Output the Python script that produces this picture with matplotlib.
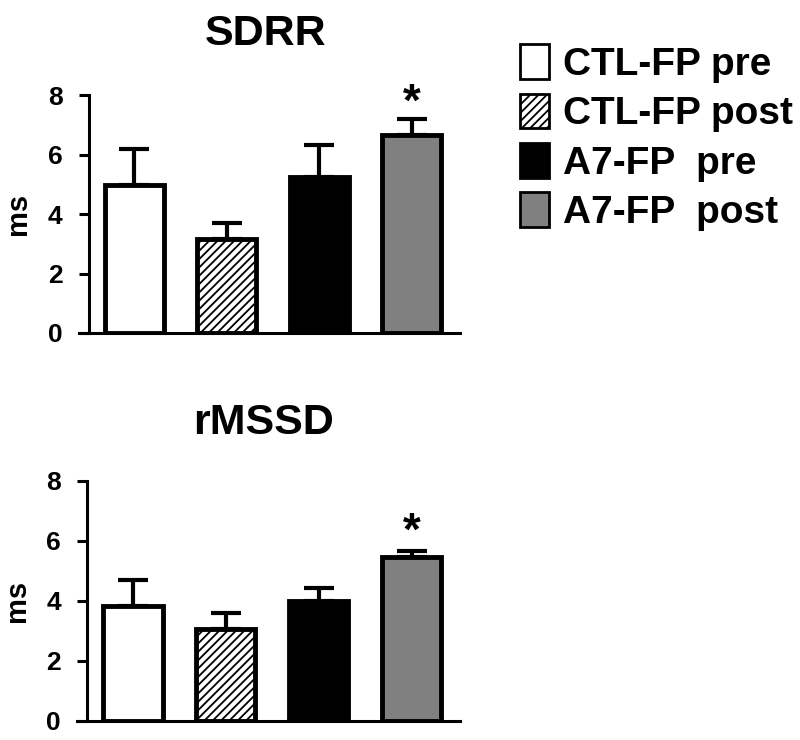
import matplotlib
matplotlib.use('Agg')
import matplotlib.pyplot as plt
from matplotlib.patches import Patch

plt.rcParams['font.family'] = ['Liberation Sans', 'DejaVu Sans']
plt.rcParams['font.weight'] = 'bold'
plt.rcParams['hatch.linewidth'] = 1.3

groups = ['CTL-FP pre', 'CTL-FP post', 'A7-FP  pre', 'A7-FP  post']
sdrr_mean = [4.96, 3.15, 5.23, 6.64]
sdrr_err = [1.24, 0.55, 1.09, 0.56]
rmssd_mean = [3.82, 3.06, 3.98, 5.47]
rmssd_err = [0.88, 0.54, 0.44, 0.18]
yticks = [0, 2, 4, 6, 8]

faces = ['white', 'white', 'black', '#808080']
hatches = [None, '////', None, None]

fig = plt.figure(figsize=(8, 7.4), dpi=100)
ax1 = fig.add_axes([0.111, 0.55, 0.464, 0.3216])
ax2 = fig.add_axes([0.109, 0.026, 0.466, 0.324])

def panel(ax, means, errs, title, tx, tpad, star_dy):
    x = range(len(means))
    for i in x:
        ax.bar(i, means[i], width=0.64, color=faces[i], edgecolor='black',
               linewidth=3.5, hatch=hatches[i], zorder=2)
    ax.errorbar(list(x), means, yerr=[[0] * len(errs), errs], fmt='none',
                ecolor='black', elinewidth=3, capsize=11, capthick=3, zorder=1)
    top = means[3] + errs[3]
    ax.annotate('*', (3, top), xytext=(0, star_dy), textcoords='offset points',
                ha='center', va='bottom', fontsize=33, fontweight='bold')
    ax.set_xlim(-0.49, 3.52)
    ax.set_ylim(0, 8)
    ax.set_yticks(yticks)
    ax.set_xticks([])
    ax.tick_params(axis='y', length=7, width=2.2, labelsize=19, pad=12)
    for lab in ax.get_yticklabels():
        lab.set_fontweight('bold')
    ax.spines['top'].set_visible(False)
    ax.spines['right'].set_visible(False)
    ax.spines['left'].set_linewidth(2.2)
    ax.spines['bottom'].set_linewidth(2.2)
    ax.spines['bottom'].set_bounds(-0.6, 3.52)
    ax.set_ylabel('ms', fontsize=21, fontweight='bold', labelpad=11)
    ax.set_title(title, fontsize=31, fontweight='bold', pad=tpad, x=tx)

panel(ax1, sdrr_mean, sdrr_err, 'SDRR', 0.477, 36, -5)
panel(ax2, rmssd_mean, rmssd_err, 'rMSSD', 0.474, 34, -2)

handles = [Patch(facecolor=faces[i], edgecolor='black', linewidth=2,
                 hatch=hatches[i]) for i in range(4)]
fig.legend(handles, groups, loc='upper left', bbox_to_anchor=(0.65, 0.94),
           frameon=False, handlelength=0.75, handleheight=1.0,
           handletextpad=0.35, labelspacing=0.27, borderpad=0, borderaxespad=0,
           prop={'weight': 'bold', 'size': 28})

fig.savefig('out.png', dpi=100)
